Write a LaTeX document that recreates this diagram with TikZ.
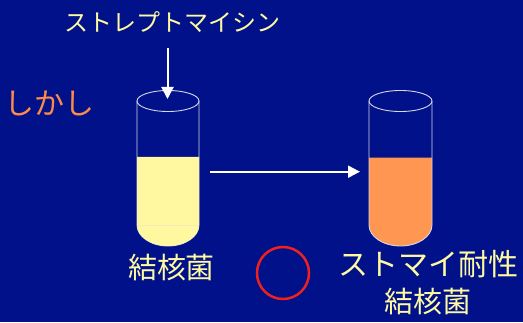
\documentclass[tikz,border=0pt]{standalone}
\usepackage{fontspec}
\setmainfont{Noto Sans CJK JP}
\usetikzlibrary{arrows.meta}
\begin{document}
\begin{tikzpicture}[x=1pt,y=1pt,
  label/.style={text=textColor,inner sep=0pt,outer sep=0pt},
  tubeline/.style={draw=glassColor,line width=0.9pt},
  pointer/.style={draw=white,line width=2pt,-{Triangle[width=12pt,length=12pt]}}]
\definecolor{fillColor}{RGB}{0,17,137}
\definecolor{textColor}{RGB}{255,250,160}
\definecolor{glassColor}{RGB}{215,215,230}
\definecolor{brothColor}{RGB}{255,248,160}
\definecolor{resistColor}{RGB}{255,150,82}
\definecolor{butColor}{RGB}{255,138,72}
\definecolor{ringColor}{RGB}{238,32,32}
\path[use as bounding box,fill=fillColor] (0,0) rectangle (523,322);

% left tube: outline, then broth on top
\path[tubeline] (137,221) -- (137,97) arc[start angle=180,end angle=360,x radius=31,y radius=21] -- (199,221);
\path[fill=brothColor] (137,165) -- (137,97) arc[start angle=180,end angle=360,x radius=31,y radius=21] -- (199,165) -- cycle;
\path[draw=glassColor!35!brothColor,line width=0.5pt] (137,97) -- (199,97);
\path[tubeline] (168,221) ellipse[x radius=31,y radius=10.5];

% right tube: broth, then outline
\path[fill=resistColor] (369,164.3) -- (369,97) arc[start angle=180,end angle=360,x radius=31.5,y radius=21] -- (432,164.3) -- cycle;
\path[tubeline] (369,221) -- (369,97) arc[start angle=180,end angle=360,x radius=31.5,y radius=21] -- (432,221);
\path[tubeline] (400.5,221) ellipse[x radius=31.5,y radius=10.5];

% labels
\node[label] (strep) at (172.5,300) {\fontsize{24}{28}\selectfont ストレプトマイシン};
\node[label,text=butColor] (but) at (50,218.5) {\fontsize{30}{34}\selectfont しかし};
\node[label] (tb) at (171.5,54.5) {\fontsize{29}{33}\selectfont 結核菌};
\node[label] (res) at (428,57.5) {\fontsize{30}{34}\selectfont ストマイ耐性};
\node[label] (restb) at (428,20.5) {\fontsize{29}{33}\selectfont 結核菌};

\node[draw=ringColor,line width=2.5pt,circle,minimum size=52pt,inner sep=0pt] (ring) at (283,49) {};

% arrows
\coordinate (drop) at (167.5,274);
\coordinate (dropend) at (167.5,223);
\coordinate (move) at (210,150.3);
\coordinate (moveend) at (360,150.3);
\path[pointer] (drop) -- (dropend);
\path[pointer] (move) -- (moveend);
\end{tikzpicture}
\end{document}
